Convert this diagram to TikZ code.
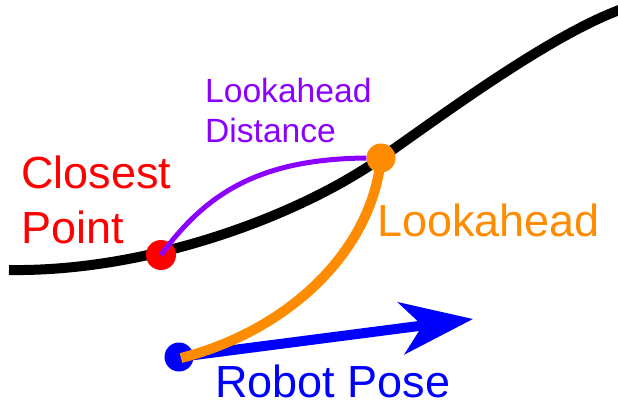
\documentclass[tikz,border=0pt]{standalone}
\usepackage{fontspec}
\setmainfont{Liberation Sans}
\usetikzlibrary{arrows.meta}
\pgfdeclarelayer{bg}
\pgfdeclarelayer{fg}
\pgfsetlayers{bg,main,fg}
\definecolor{cred}{RGB}{255,0,0}
\definecolor{corange}{RGB}{255,140,0}
\definecolor{cpurple}{RGB}{140,0,255}
\definecolor{cblue}{RGB}{0,0,255}
\begin{document}
\begin{tikzpicture}[x=1pt,y=-1pt,
  dot/.style={circle,inner sep=0pt,minimum size=29pt,fill=#1},
  biglabel/.style={anchor=base west,inner sep=0pt,font={\fontsize{45}{55}\selectfont},align=left},
  smalllabel/.style={anchor=base west,inner sep=0pt,font={\fontsize{33.6}{40}\selectfont},align=left},
  pathline/.style={line width=10pt,line cap=butt}]
\useasboundingbox (0,0) rectangle (618,405);
% path
\begin{pgfonlayer}{bg}
\draw[pathline,black] (9,270) .. controls (150,272) and (300,215) .. (381,158)
  .. controls (441,116) and (550,35) .. (622,9);
\end{pgfonlayer}
% points
\node[dot=cred,minimum size=30pt] (cp) at (161,255) {};
\node[dot=corange] (la) at (381,158) {};
\node[dot=cblue] (rp) at (179,357) {};
\coordinate (tip) at (473,319);
% labels (anchor at baseline of last line)
\node[smalllabel,text=cpurple] (ldl) at (205,142) {Lookahead\\Distance};
\node[biglabel,text=cred] (cpl) at (21,243) {Closest\\Point};
\node[biglabel,text=corange] (lal) at (377,236) {Lookahead};
\node[biglabel,text=cblue] (rpl) at (215,397) {Robot Pose};
% connectors
\begin{pgfonlayer}{fg}
\draw[cpurple,line width=5pt] (cp.center) .. controls (205,195) and (257,159) .. (la.west);
\draw[cblue,line width=10pt,-{Stealth[length=72pt,width=52pt,inset=21pt]}] (rp.center) -- (tip);
\draw[corange,pathline] (la.center) .. controls (372,250) and (290,330) .. (181,358);
\end{pgfonlayer}
\end{tikzpicture}
\end{document}
